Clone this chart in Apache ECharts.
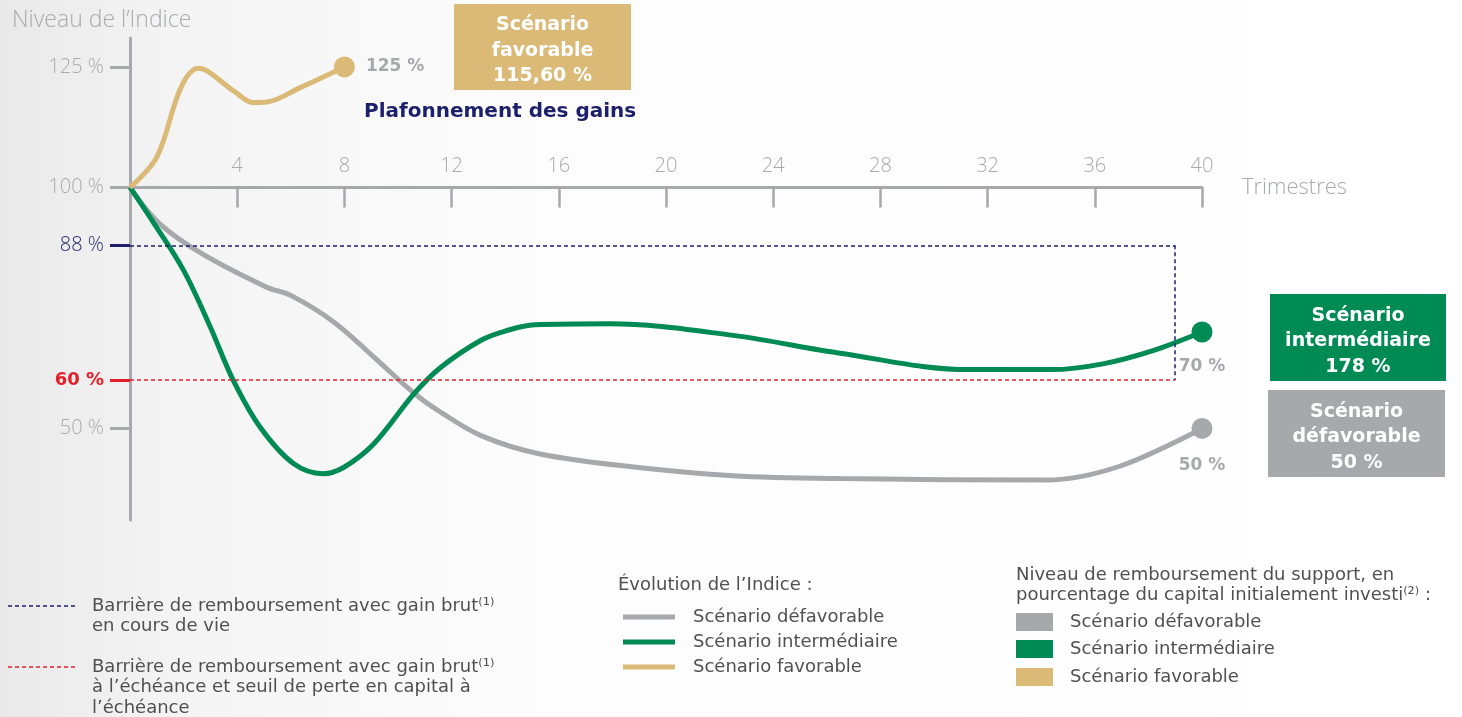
<!DOCTYPE html>
<html>
<head>
<meta charset="utf-8">
<script src="https://cdn.jsdelivr.net/npm/echarts@6/dist/echarts.min.js"></script>
<style>
  html, body { margin: 0; padding: 0; background: #fff; }
  #main { width: 1462px; height: 717px; }
</style>
</head>
<body>
<div id="main"></div>
<script>
// index level (%) per quarter
var defavorable = [[0, 100], [1.1, 92.5], [2.7, 86.2], [5.1, 79.3], [6, 77.6], [7.6, 72.1], [9.1, 64.8],
  [10.6, 57.3], [11.5, 53.7], [13.1, 48.5], [15.3, 44.7], [18.8, 42], [22.5, 40.2], [26.5, 39.6],
  [34.2, 39.3], [36.9, 42.1], [40, 50]];
var intermediaire = [[0, 100], [0.9, 92.5], [2, 82.8], [3, 71], [3.85, 60], [4.85, 50.3], [6.1, 42.7],
  [7.2, 40.6], [8, 42], [9.1, 46.8], [10.6, 57.2], [11.6, 62.7], [13.1, 68.3], [14, 70.2], [15.1, 71.5],
  [17.9, 71.7], [22.5, 69.3], [26.5, 65.6], [31.3, 62.2], [34.4, 62.2], [36.3, 63.4], [38.2, 66.2], [40, 70]];
var favorable = [[0, 100], [1, 106.3], [1.9, 120.7], [2.55, 124.7], [3.85, 120.1], [4.6, 117.6],
  [5.1, 117.7], [6.35, 120.7], [8, 125]];

var barrierGain = 88;      // barrière en cours de vie
var barrierCapital = 60;   // barrière à l'échéance
var barrierEndQuarter = 39;
var greyTicks = [125, 100, 50];
var yMin = 31, yMax = 131;

var GREY = '#a7a8ac', GREEN = '#008a54', TAN = '#dbb977', NAVY = '#1c1f6b', RED = '#e3202a';
var TXT = '#505050', LIGHT = '#a9aaad';
var THIN = '"Open Sans"', BOLD = '"DejaVu Sans"';

var W = 1462, H = 717;
var grid = { left: 130, right: 260, top: 38, bottom: 197 };
// the quarters axis crosses the index axis at 100 %
var xAxisOffset = -(H - grid.top - grid.bottom) * (100 - yMin) / (yMax - yMin);

function buildData(pts, color, labelPos, labelDist) {
  return pts.map(function (p, i) {
    if (i < pts.length - 1) return p;
    return {
      value: p,
      symbol: 'circle', symbolSize: 21,
      itemStyle: { color: color },
      label: {
        show: true, position: labelPos, distance: labelDist,
        formatter: p[1] + ' %', color: GREY, fontSize: 17, fontWeight: 'bold', fontFamily: BOLD
      }
    };
  });
}

function lineSeries(name, pts, color, labelPos, labelDist) {
  return {
    name: name, type: 'line', smooth: 0.35, symbol: 'none', showSymbol: true,
    data: buildData(pts, color, labelPos, labelDist),
    lineStyle: { color: color, width: 5 }, itemStyle: { color: color },
    emphasis: { disabled: true }, z: 3
  };
}

var chart = echarts.init(document.getElementById('main'));

var axisBase = {
  type: 'value', position: 'left', min: yMin, max: yMax,
  splitLine: { show: false }, axisLine: { show: false }
};
function tickLabel(color, weight, family) {
  return {
    color: color, fontSize: 20, fontWeight: weight, fontFamily: family, margin: 26,
    formatter: function (v) { return v + ' %'; }
  };
}

var greyAxis = Object.assign({}, axisBase, {
  axisLine: { show: true, onZero: false, lineStyle: { color: GREY, width: 3 } },
  axisTick: { show: true, length: 20, lineStyle: { color: GREY, width: 3 }, customValues: greyTicks },
  axisLabel: Object.assign(tickLabel(LIGHT, 300, THIN), { customValues: greyTicks })
});
var navyAxis = Object.assign({}, axisBase, {
  axisTick: { show: true, length: 20, lineStyle: { color: NAVY, width: 3 }, customValues: [barrierGain] },
  axisLabel: Object.assign(tickLabel('#2a2f70', 300, THIN), { customValues: [barrierGain] })
});
var redAxis = Object.assign({}, axisBase, {
  axisTick: { show: true, length: 20, lineStyle: { color: RED, width: 3 }, customValues: [barrierCapital] },
  axisLabel: Object.assign(tickLabel(RED, 'bold', BOLD), { fontSize: 18, customValues: [barrierCapital] })
});

function boxText(lines, x, y, w, h, color) {
  return {
    type: 'group', children: [
      { type: 'rect', shape: { x: x, y: y, width: w, height: h }, style: { fill: color } },
      { type: 'text', x: x + w / 2, y: y + h / 2 + 4, style: {
        text: lines.join('\n'), fill: '#fff', font: 'bold 19px ' + BOLD, lineHeight: 25.5,
        align: 'center', verticalAlign: 'middle' } }
    ]
  };
}

function plain(text, x, y) {
  return { type: 'text', x: x, y: y, style: { text: text, fill: TXT, font: '18px ' + BOLD,
    lineHeight: 20.5, verticalAlign: 'top' } };
}

var option = {
  animation: false,
  backgroundColor: {
    type: 'linear', x: 0, y: 0, x2: 1, y2: 0,
    colorStops: [{ offset: 0, color: '#e9e9e9' }, { offset: 0.12, color: '#f4f4f4' }, { offset: 0.35, color: '#fcfcfc' }, { offset: 1, color: '#ffffff' }]
  },
  title: {
    text: 'Niveau de l’Indice', left: 7, top: 4,
    textStyle: { color: LIGHT, fontSize: 23, fontWeight: 300, fontFamily: THIN }
  },
  grid: grid,
  legend: {
    orient: 'vertical', left: 618, top: 603, itemWidth: 52, itemHeight: 5, itemGap: 7, icon: 'rect',
    data: ['Scénario défavorable', 'Scénario intermédiaire', 'Scénario favorable'],
    formatter: function (n) { return '{t|' + n + '}'; },
    textStyle: { rich: { t: { fontSize: 18, fontFamily: BOLD, color: TXT, padding: [0, 0, 0, 13] } } },
    selectedMode: false
  },
  xAxis: {
    type: 'value', min: 0, max: 40, interval: 4, position: 'bottom', offset: xAxisOffset,
    name: 'Trimestres', nameLocation: 'end', nameGap: 40,
    nameTextStyle: { color: LIGHT, fontSize: 22, fontFamily: THIN, fontWeight: 300 },
    axisLine: { onZero: false, lineStyle: { color: GREY, width: 3 } },
    axisTick: { length: 20, lineStyle: { color: GREY, width: 2.5 } },
    axisLabel: { margin: -11, verticalAlign: 'bottom', color: LIGHT, fontSize: 20, fontFamily: THIN, fontWeight: 300,
      showMinLabel: false, formatter: function (v) { return v === 0 ? '' : v; } },
    splitLine: { show: false }
  },
  yAxis: [greyAxis, navyAxis, redAxis],
  series: [
    Object.assign(lineSeries('Scénario défavorable', defavorable, GREY, 'bottom', 18), {
      markLine: {
        silent: true, symbol: 'none', label: { show: false },
        lineStyle: { type: [4, 3], width: 1.5 },
        data: [
          [{ coord: [0, barrierGain], lineStyle: { color: NAVY } }, { coord: [barrierEndQuarter, barrierGain] }],
          [{ coord: [barrierEndQuarter, barrierGain], lineStyle: { color: NAVY } }, { coord: [barrierEndQuarter, barrierCapital] }],
          [{ coord: [0, barrierCapital], lineStyle: { color: RED } }, { coord: [barrierEndQuarter, barrierCapital] }]
        ]
      }
    }),
    lineSeries('Scénario intermédiaire', intermediaire, GREEN, 'bottom', 16),
    lineSeries('Scénario favorable', favorable, TAN, 'right', 11)
  ],
  graphic: [
    boxText(['Scénario', 'favorable', '115,60 %'], 454, 4, 177, 86, TAN),
    { type: 'text', x: 364, y: 112, style: { text: 'Plafonnement des gains', fill: NAVY,
      font: 'bold 20px ' + BOLD, verticalAlign: 'middle' } },
    boxText(['Scénario', 'intermédiaire', '178 %'], 1270, 294, 176, 87, GREEN),
    boxText(['Scénario', 'défavorable', '50 %'], 1268, 390, 177, 87, GREY),

    // barrier legend
    { type: 'line', shape: { x1: 8, y1: 606, x2: 78, y2: 606 }, style: { stroke: NAVY, lineWidth: 1.4, lineDash: [4, 3] } },
    plain('Barrière de remboursement avec gain brut⁽¹⁾\nen cours de vie', 92, 596),
    { type: 'line', shape: { x1: 8, y1: 667, x2: 78, y2: 667 }, style: { stroke: RED, lineWidth: 1.4, lineDash: [4, 3] } },
    plain('Barrière de remboursement avec gain brut⁽¹⁾\nà l’échéance et seuil de perte en capital à\nl’échéance', 92, 657),

    // index legend title
    plain('Évolution de l’Indice :', 618, 575),

    // repayment legend
    plain('Niveau de remboursement du support, en\npourcentage du capital initialement investi⁽²⁾ :', 1016, 565),
    { type: 'rect', shape: { x: 1016, y: 613, width: 37, height: 18 }, style: { fill: GREY } },
    plain('Scénario défavorable', 1070, 612),
    { type: 'rect', shape: { x: 1016, y: 640, width: 37, height: 18 }, style: { fill: GREEN } },
    plain('Scénario intermédiaire', 1070, 639),
    { type: 'rect', shape: { x: 1016, y: 668, width: 37, height: 18 }, style: { fill: TAN } },
    plain('Scénario favorable', 1070, 667)
  ]
};

chart.setOption(option);
window.addEventListener('resize', function () { chart.resize(); });
</script>
</body>
</html>
